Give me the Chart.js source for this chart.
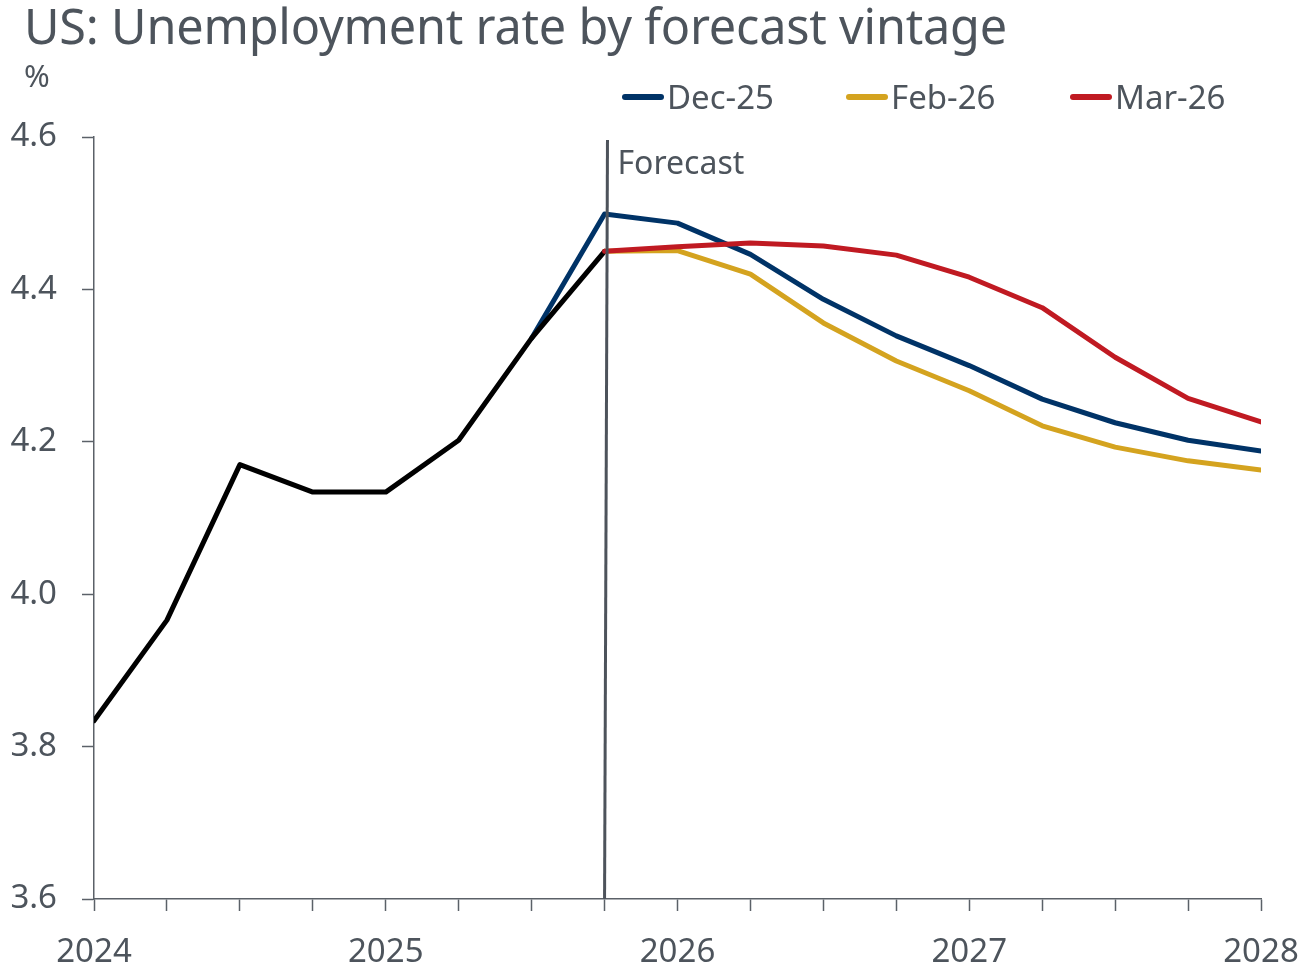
<!DOCTYPE html>
<html>
<head>
<meta charset="utf-8">
<title>US: Unemployment rate by forecast vintage</title>
<script src="https://cdn.jsdelivr.net/npm/chart.js@4"></script>
<style>
  html, body { margin: 0; padding: 0; background: #ffffff; }
  #wrap { position: relative; width: 1304px; height: 970px; overflow: hidden; }
  #chart { position: absolute; left: 0; top: 0; }
  .txt { position: absolute; color: #4d545c; font-family: "Noto Sans", "Open Sans", sans-serif; white-space: nowrap; }
  #title { left: 24px; top: -8px; font-size: 48.6px; letter-spacing: -0.2px; }
  #unit { left: 24px; top: 54px; font-size: 31px; }
  #legend { position: absolute; left: 622px; top: 74px; height: 44px; width: 660px; }
  .item { position: absolute; top: 0; display: flex; align-items: center; font-size: 33px; color: #4d545c; font-family: "Noto Sans", "Open Sans", sans-serif; white-space: nowrap; }
  .swatch { width: 42px; height: 6px; border-radius: 3px; margin-right: 3px; }
</style>
</head>
<body>
<div id="wrap">
  <canvas id="chart" width="1304" height="970"></canvas>
  <div class="txt" id="title">US: Unemployment rate by forecast vintage</div>
  <div class="txt" id="unit">%</div>
  <div id="legend"></div>
</div>
<script>
// Quarterly periods, 2024Q1 .. 2028Q1 (x position = index)
const quarters = ['2024Q1','2024Q2','2024Q3','2024Q4','2025Q1','2025Q2','2025Q3','2025Q4',
                  '2026Q1','2026Q2','2026Q3','2026Q4','2027Q1','2027Q2','2027Q3','2027Q4','2028Q1'];
const yearLabels = ['2024','2025','2026','2027','2028'];
const yTicks = [3.6, 3.8, 4.0, 4.2, 4.4, 4.6];

// Unemployment rate, %
const actual = [3.834, 3.966, 4.170, 4.134, 4.134, 4.202, 4.336, 4.450];
const dec25  = [null, null, null, null, null, null, 4.336, 4.499, 4.487, 4.446, 4.387, 4.339, 4.300, 4.256, 4.225, 4.202, 4.188];
const feb26  = [null, null, null, null, null, null, null, 4.450, 4.451, 4.420, 4.356, 4.306, 4.267, 4.221, 4.193, 4.175, 4.163];
const mar26  = [null, null, null, null, null, null, null, 4.450, 4.456, 4.461, 4.457, 4.445, 4.416, 4.376, 4.311, 4.257, 4.226];

const seriesNames  = ['Dec-25', 'Feb-26', 'Mar-26'];
const seriesColors = ['#003367', '#d4a31f', '#c01a22'];

const forecastStart = 7;      // 2025Q4
const forecastLabel = 'Forecast';

const textColor = '#4d545c';
const axisColor = '#5b6168';
const fontFamily = '"Noto Sans", "Open Sans", sans-serif';

function toPoints(values) {
  return values.map((v, i) => ({ x: i, y: v }));
}

// HTML legend for the forecast vintages
const legendEl = document.getElementById('legend');
seriesNames.forEach((name, i) => {
  const item = document.createElement('div');
  item.className = 'item';
  item.style.left = (i * 224) + 'px';
  const sw = document.createElement('div');
  sw.className = 'swatch';
  sw.style.background = seriesColors[i];
  const label = document.createElement('span');
  label.textContent = name;
  item.appendChild(sw);
  item.appendChild(label);
  legendEl.appendChild(item);
});

// Vertical marker where the forecast begins
const forecastMarker = {
  id: 'forecastMarker',
  afterDatasetsDraw(chart) {
    const { ctx, chartArea, scales } = chart;
    const xb = scales.x.getPixelForValue(forecastStart);
    const xt = scales.x.getPixelForValue(forecastStart + 0.04);
    ctx.save();
    ctx.strokeStyle = '#4d535b';
    ctx.lineWidth = 3;
    ctx.beginPath();
    ctx.moveTo(xt, chartArea.top + 3);
    ctx.lineTo(xb, chartArea.bottom);
    ctx.stroke();
    ctx.fillStyle = textColor;
    ctx.font = '32px ' + fontFamily;
    ctx.textBaseline = 'alphabetic';
    ctx.textAlign = 'left';
    ctx.fillText(forecastLabel, xt + 10, chartArea.top + 37);
    ctx.restore();
  }
};

const lineStyle = { borderWidth: 5, pointRadius: 0, tension: 0, fill: false, spanGaps: false, borderCapStyle: 'round', borderJoinStyle: 'round' };

new Chart(document.getElementById('chart'), {
  type: 'line',
  data: {
    datasets: [
      Object.assign({ label: seriesNames[0], data: toPoints(dec25), borderColor: seriesColors[0], order: 4 }, lineStyle),
      Object.assign({ label: seriesNames[1], data: toPoints(feb26), borderColor: seriesColors[1], order: 3 }, lineStyle),
      Object.assign({ label: 'Actual', data: toPoints(actual), borderColor: '#000000', order: 2 }, lineStyle),
      Object.assign({ label: seriesNames[2], data: toPoints(mar26), borderColor: seriesColors[2], order: 1 }, lineStyle)
    ]
  },
  options: {
    responsive: false,
    animation: false,
    devicePixelRatio: 1,
    layout: { padding: { top: 137, right: 43, left: 0, bottom: 0 } },
    plugins: { legend: { display: false }, tooltip: { enabled: false }, title: { display: false } },
    scales: {
      x: {
        type: 'linear',
        min: 0,
        max: quarters.length - 1,
        grid: { drawOnChartArea: false, drawTicks: true, tickLength: 12, tickColor: axisColor, tickWidth: 1.5 },
        border: { display: true, color: axisColor, width: 1.5 },
        ticks: {
          stepSize: 1,
          autoSkip: false,
          maxRotation: 0,
          padding: 22,
          color: textColor,
          font: { family: fontFamily, size: 33 },
          callback: (v) => (v % 4 === 0 ? yearLabels[v / 4] : '')
        },
        afterFit: (s) => { s.height = 71; s.paddingLeft = 0; s.paddingRight = 0; }
      },
      y: {
        type: 'linear',
        min: yTicks[0],
        max: yTicks[yTicks.length - 1],
        afterBuildTicks: (s) => { s.ticks = yTicks.map(v => ({ value: v })); },
        grid: { drawOnChartArea: false, drawTicks: true, tickLength: 12, tickColor: axisColor, tickWidth: 1.5 },
        border: { display: true, color: axisColor, width: 1.5 },
        ticks: {
          padding: 25,
          color: textColor,
          font: { family: fontFamily, size: 33 },
          callback: (v) => Number(v).toFixed(1)
        },
        afterFit: (s) => { s.width = 94; s.paddingTop = 0; s.paddingBottom = 0; }
      }
    }
  },
  plugins: [forecastMarker]
});
</script>
</body>
</html>
